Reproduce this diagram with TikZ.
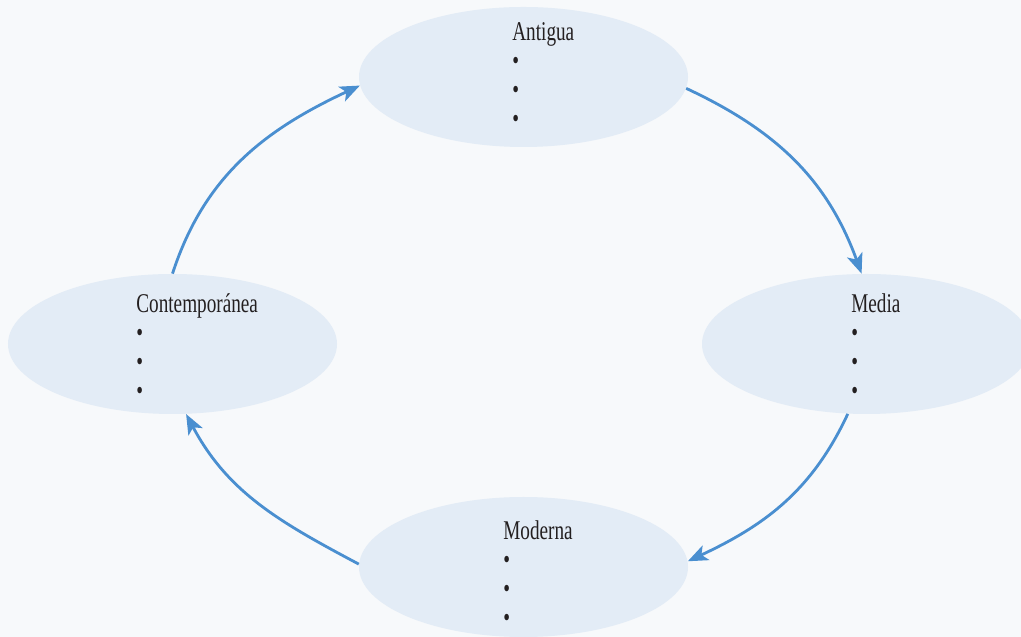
\documentclass[tikz,border=0pt]{standalone}
\usepackage{fontspec}
\setmainfont{Liberation Serif}
\usepackage{graphicx}
\usepackage{tikz}
\usetikzlibrary{shapes.geometric, arrows.meta}

\definecolor{pagebg}{HTML}{F7F9FB}
\definecolor{erafill}{HTML}{E3ECF6}
\definecolor{flowblue}{HTML}{4A8FD0}
\definecolor{inktext}{HTML}{231F20}

% name of the era and three empty bullets, narrowed
\newcommand{\eralabel}[1]{\scalebox{0.71}[1]{\begin{tabular}[t]{@{}l@{}}#1\\ \textbullet\\ \textbullet\\ \textbullet\end{tabular}}}

\begin{document}
\begin{tikzpicture}[
	era/.style = {ellipse, fill=erafill, minimum width=6.58cm, minimum height=2.8cm, inner sep=0pt},
	eratext/.style = {anchor=base west, inner sep=0pt, text=inktext, font=\fontsize{15.4}{16.4}\selectfont},
	flow/.style = {flowblue, line width=1.6pt, -{Stealth[length=0.4cm, width=0.32cm, inset=0.1cm]}}
]
\fill[pagebg] (0, 0) rectangle (20.42, 12.74);
\useasboundingbox (0, 0) rectangle (20.42, 12.74);

\node[era] (antigua) at (10.47, 11.20) {};
\node[era] (media) at (17.33, 5.86) {};
\node[era] (moderna) at (10.47, 1.40) {};
\node[era] (contemp) at (3.45, 5.86) {};

\node[eratext] (antiguatxt) at (10.24, 11.92) {\eralabel{Antigua}};
\node[eratext] (mediatxt) at (17.02, 6.48) {\eralabel{Media}};
\node[eratext] (modernatxt) at (10.06, 1.94) {\eralabel{Moderna}};
\node[eratext] (contemptxt) at (2.72, 6.48) {\eralabel{Contemporánea}};

\draw[flow] (antigua.-4) to[out=-25, in=110] (media.94);
\draw[flow] (media.-105) to[out=-115, in=25] (moderna.2);
\draw[flow] (moderna.179) to[out=152, in=-62] (contemp.-79);
\draw[flow] (contemp.90) to[out=72, in=-155] (antigua.183);
\end{tikzpicture}
\end{document}
